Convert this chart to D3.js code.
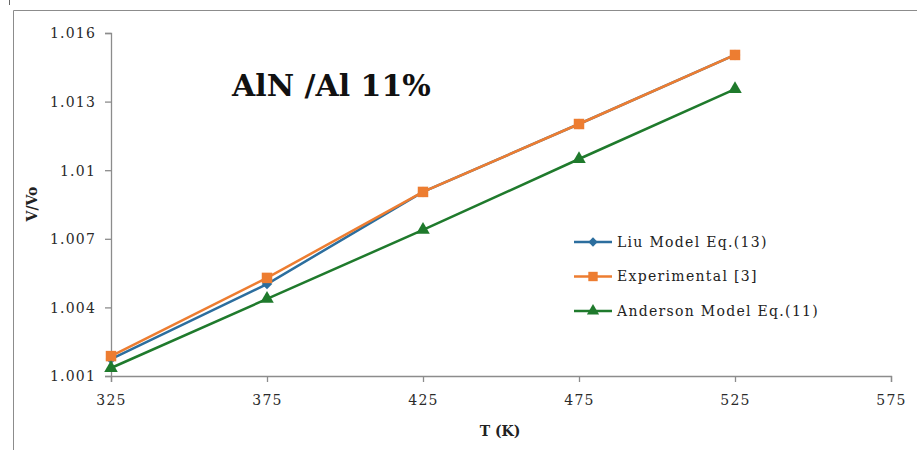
<!DOCTYPE html>
<meta charset="utf-8">
<script src="https://cdn.jsdelivr.net/npm/d3@7"></script>
<style>
body { margin: 0; background: #fff; }
text { font-family: "DejaVu Serif", "Liberation Serif", serif; }
</style>
<body>
<script>

// data
var temps = [325, 375, 425, 475, 525];
var liu = [1.00174, 1.00502, 1.00905, 1.01202, 1.01504];
var experimental = [1.00187, 1.00529, 1.00905, 1.01202, 1.01504];
var anderson = [1.00135, 1.00437, 1.00739, 1.01049, 1.01355];
var xTicks = [325, 375, 425, 475, 525, 575];
var yTicks = [1.001, 1.004, 1.007, 1.01, 1.013, 1.016];
var seriesNames = ["Liu Model Eq.(13)", "Experimental [3]", "Anderson Model Eq.(11)"];

var series = [
  {name: seriesNames[0], values: liu, color: "#2C6E9E", symbol: d3.symbolDiamond2, size: 70},
  {name: seriesNames[1], values: experimental, color: "#ED7D31", symbol: d3.symbolSquare, size: 110},
  {name: seriesNames[2], values: anderson, color: "#1F7A2C", symbol: d3.symbolTriangle, size: 80}
];

var width = 917, height = 450;
var svg = d3.select("body").append("svg")
    .attr("width", width)
    .attr("height", height);

// outer frame (only top and left show)
svg.append("path")
    .attr("d", "M13.5,450 V10.5 H917")
    .attr("fill", "none")
    .attr("stroke", "#8c8c8c");
svg.append("line")
    .attr("x1", 9.5).attr("x2", 9.5).attr("y1", 0).attr("y2", 5)
    .attr("stroke", "#666");

var x = d3.scaleLinear().domain([325, 575]).range([111, 891]);
var y = d3.scaleLinear().domain([1.001, 1.016]).range([376, 33]);

var xAxis = svg.append("g")
    .attr("transform", "translate(0," + y(1.001) + ")")
    .call(d3.axisBottom(x).tickValues(xTicks).tickSize(6).tickPadding(13).tickFormat(d3.format("d")));
var yAxis = svg.append("g")
    .attr("transform", "translate(" + x(325) + ",0)")
    .call(d3.axisLeft(y).tickValues(yTicks).tickSize(6).tickPadding(9).tickFormat(function(d) { return +d.toFixed(3); }));

[xAxis, yAxis].forEach(function(a) {
  a.select(".domain").attr("stroke", "#8c8c8c").attr("stroke-width", 1.3);
  a.selectAll(".tick line").attr("stroke", "#8c8c8c").attr("stroke-width", 1.3);
  a.selectAll(".tick text")
      .attr("fill", "#2a2a2a")
      .style("font-size", "14px")
      .style("letter-spacing", "1.2px")
      .style("font-family", "'DejaVu Serif', serif");
});
yAxis.selectAll(".tick text").attr("dy", "0.35em");

var line = d3.line()
    .x(function(d, i) { return x(temps[i]); })
    .y(function(d) { return y(d); });

series.forEach(function(s) {
  svg.append("path")
      .datum(s.values)
      .attr("d", line)
      .attr("fill", "none")
      .attr("stroke", s.color)
      .attr("stroke-width", 2.5);
  svg.selectAll(null)
      .data(s.values)
      .enter().append("path")
      .attr("transform", function(d, i) { return "translate(" + x(temps[i]) + "," + y(d) + ")"; })
      .attr("d", d3.symbol().type(s.symbol).size(s.size))
      .attr("fill", s.color);
});

// title
svg.append("text")
    .attr("x", 232)
    .attr("y", 96)
    .attr("font-size", "30px")
    .attr("font-weight", "bold")
    .attr("fill", "#111")
    .text("AlN /Al 11%");

// axis titles
svg.append("text")
    .attr("x", 500)
    .attr("y", 436)
    .attr("text-anchor", "middle")
    .attr("font-size", "14px")
    .attr("font-weight", "bold")
    .attr("fill", "#222")
    .text("T (K)");
svg.append("text")
    .attr("transform", "translate(37,204) rotate(-90)")
    .attr("text-anchor", "middle")
    .attr("font-size", "14px")
    .attr("font-weight", "bold")
    .attr("fill", "#222")
    .text("V/Vo");

// legend
var legend = svg.selectAll(".legend")
    .data(series)
    .enter().append("g")
    .attr("class", "legend")
    .attr("transform", function(d, i) { return "translate(574," + (242 + i * 34.5) + ")"; });
legend.append("line")
    .attr("x1", 0).attr("x2", 38)
    .attr("stroke", function(d) { return d.color; })
    .attr("stroke-width", 2.5);
legend.append("path")
    .attr("transform", "translate(19,0)")
    .attr("d", function(d) { return d3.symbol().type(d.symbol).size(d.size * 0.8)(); })
    .attr("fill", function(d) { return d.color; });
legend.append("text")
    .attr("x", 43)
    .attr("dy", "0.35em")
    .attr("font-size", "14px")
    .attr("letter-spacing", "1.3px")
    .attr("fill", "#222")
    .text(function(d) { return d.name; });

</script>
</body>
</html>
